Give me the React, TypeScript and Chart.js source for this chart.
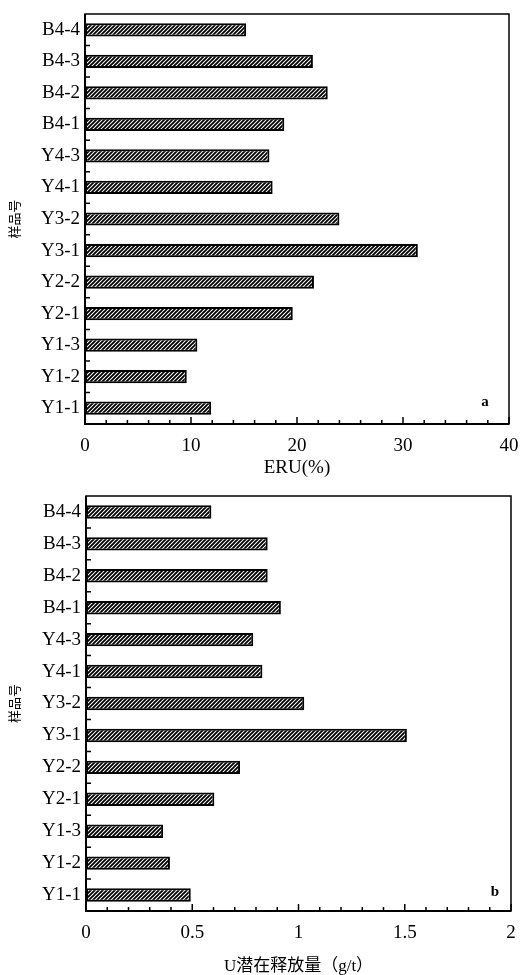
import React, { useEffect, useRef } from 'react';
import { Chart, registerables } from 'chart.js';

Chart.register(...registerables);

// Categories listed top to bottom
const categories = ['B4-4', 'B4-3', 'B4-2', 'B4-1', 'Y4-3', 'Y4-1', 'Y3-2', 'Y3-1', 'Y2-2', 'Y2-1', 'Y1-3', 'Y1-2', 'Y1-1'];
const eruValues = [15.2, 21.5, 22.9, 18.8, 17.4, 17.7, 24.0, 31.4, 21.6, 19.6, 10.6, 9.6, 11.9];
const uReleaseValues = [0.59, 0.855, 0.855, 0.917, 0.787, 0.83, 1.027, 1.51, 0.725, 0.604, 0.363, 0.395, 0.493];
const eruTickLabels = ['0', '10', '20', '30', '40'];
const uTickLabels = ['0', '0.5', '1', '1.5', '2'];
const yTitle = '样品号';
const eruTitle = 'ERU(%)';
const uTitle = 'U潜在释放量（g/t）';

const SERIF = '"Liberation Serif", "Times New Roman", serif';
const CJK_SERIF = '"Liberation Serif", "Noto Sans CJK SC", serif';

function makeHatch(ctx: CanvasRenderingContext2D) {
  const c = document.createElement('canvas');
  c.width = 4;
  c.height = 4;
  const g = c.getContext('2d')!;
  g.fillStyle = '#fff';
  g.fillRect(0, 0, 4, 4);
  g.strokeStyle = '#000';
  g.lineWidth = 1.9;
  g.beginPath();
  g.moveTo(-1, 5); g.lineTo(5, -1);
  g.moveTo(-1, 1); g.lineTo(1, -1);
  g.moveTo(3, 5); g.lineTo(5, 3);
  g.stroke();
  return ctx.createPattern(c, 'repeat');
}

const framePlugin = {
  id: 'frame',
  afterDatasetsDraw(chart: any, _args: any, opts: any) {
    const { ctx, chartArea: a, scales } = chart;
    ctx.save();
    ctx.strokeStyle = '#000';
    ctx.lineWidth = 1.5;
    ctx.strokeRect(a.left, a.top, a.right - a.left, a.bottom - a.top);
    ctx.lineWidth = 2;
    ctx.beginPath();
    ctx.moveTo(a.left, a.top);
    ctx.lineTo(a.left, a.bottom);
    ctx.lineTo(a.right, a.bottom);
    ctx.stroke();
    ctx.lineWidth = 1.5;
    ctx.beginPath();
    const x = scales.x;
    x.ticks.forEach((t: any) => {
      const px = x.getPixelForValue(t.value);
      const len = t.label ? 7 : 4;
      ctx.moveTo(px, a.bottom);
      ctx.lineTo(px, a.bottom - len);
    });
    const y = scales.y;
    for (let i = 0; i < y.ticks.length - 1; i++) {
      const p = (y.getPixelForTick(i) + y.getPixelForTick(i + 1)) / 2;
      ctx.moveTo(a.left, p);
      ctx.lineTo(a.left + 5, p);
    }
    ctx.stroke();
    ctx.fillStyle = '#000';
    ctx.font = 'bold 15px ' + SERIF;
    ctx.textAlign = 'center';
    ctx.textBaseline = 'middle';
    ctx.fillText(opts.letter, a.right - opts.dx, a.bottom - opts.dy);
    ctx.restore();
  },
};

type PanelProps = {
  values: number[];
  max: number;
  step: number;
  tickLabels: string[];
  xTitle: string;
  xTitleFont: any;
  xTitlePad: number;
  letter: string;
  dx: number;
  dy: number;
  yWidth: number;
  padTop: number;
  padRight: number;
  xHeight: number;
  height: number;
};

function Panel(p: PanelProps) {
  const ref = useRef<HTMLCanvasElement>(null);
  useEffect(() => {
    const canvas = ref.current!;
    const ctx = canvas.getContext('2d')!;
    const hatch = makeHatch(ctx);
    const chart = new Chart(canvas, {
      type: 'bar',
      data: {
        labels: categories,
        datasets: [
          {
            data: p.values,
            backgroundColor: hatch as any,
            borderColor: '#000',
            borderWidth: 2,
            borderSkipped: false,
            categoryPercentage: 1,
            barPercentage: 0.42,
          },
        ],
      },
      plugins: [framePlugin],
      options: {
        indexAxis: 'y',
        animation: false,
        responsive: false,
        devicePixelRatio: 1,
        layout: { padding: { top: p.padTop, right: p.padRight, left: 0, bottom: 0 } },
        plugins: {
          legend: { display: false },
          tooltip: { enabled: false },
          frame: { letter: p.letter, dx: p.dx, dy: p.dy },
        } as any,
        scales: {
          x: {
            type: 'linear',
            min: 0,
            max: p.max,
            grid: { display: false, drawTicks: false },
            border: { display: false },
            ticks: {
              stepSize: p.step,
              autoSkip: false,
              maxRotation: 0,
              padding: 11,
              color: '#000',
              font: { family: SERIF, size: 19 },
              callback: (v: any) => {
                const s = String(+Number(v).toFixed(2));
                return p.tickLabels.includes(s) ? s : '';
              },
            },
            title: {
              display: true,
              text: p.xTitle,
              color: '#000',
              font: p.xTitleFont,
              padding: { top: 0, bottom: p.xTitlePad },
            },
            afterFit: (s: any) => {
              s.height = p.xHeight;
              s.paddingLeft = 0;
              s.paddingRight = 0;
            },
          },
          y: {
            type: 'category',
            grid: { display: false, drawTicks: false },
            border: { display: false },
            ticks: {
              padding: 5,
              color: '#000',
              font: { family: SERIF, size: 19 },
              autoSkip: false,
            },
            title: {
              display: true,
              text: yTitle,
              color: '#000',
              font: { family: '"Noto Sans CJK SC", sans-serif', size: 13 },
              padding: { top: 6, bottom: 0 },
            },
            afterFit: (s: any) => {
              s.width = p.yWidth;
              s.paddingTop = 0;
              s.paddingBottom = 0;
            },
          },
        },
      } as any,
    });
    return () => chart.destroy();
  }, []);
  return <canvas ref={ref} width={521} height={p.height} style={{ display: 'block' }} />;
}

export default function App() {
  return (
    <div style={{ position: 'fixed', left: 0, top: 0, width: 521, height: 975, background: '#fff' }}>
      <Panel
        values={eruValues}
        max={40}
        step={2}
        tickLabels={eruTickLabels}
        xTitle={eruTitle}
        xTitleFont={{ family: SERIF, size: 19, lineHeight: 1.2 }}
        xTitlePad={6}
        letter="a"
        dx={24}
        dy={22}
        yWidth={85}
        padTop={14}
        padRight={12}
        xHeight={61}
        height={485}
      />
      <Panel
        values={uReleaseValues}
        max={2}
        step={0.1}
        tickLabels={uTickLabels}
        xTitle={uTitle}
        xTitleFont={{ family: CJK_SERIF, size: 17, lineHeight: 1 }}
        xTitlePad={0}
        letter="b"
        dx={16}
        dy={19}
        yWidth={86}
        padTop={11}
        padRight={10}
        xHeight={64}
        height={490}
      />
    </div>
  );
}
